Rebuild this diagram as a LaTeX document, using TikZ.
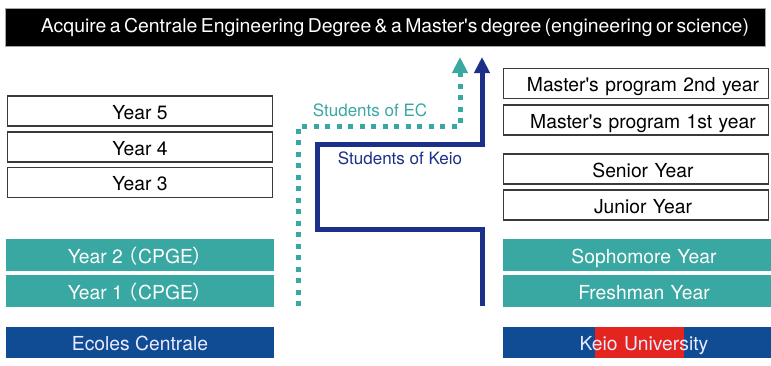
\documentclass[tikz,border=0pt]{standalone}
\usepackage{fontspec}
\usepackage{graphicx}
\setmainfont{TeX Gyre Heros}
\newfontfamily\cjkfont{Noto Sans CJK JP}
\usetikzlibrary{arrows.meta}
\definecolor{ecteal}{RGB}{58,168,162}
\definecolor{ecblue}{RGB}{16,76,148}
\definecolor{keionavy}{RGB}{28,48,138}
\definecolor{keiored}{RGB}{228,36,30}
\definecolor{boxgray}{RGB}{60,58,56}
\begin{document}
\begin{tikzpicture}[x=1pt,y=-1pt,
  boxtext/.style={font=\fontsize{19.3}{21}\selectfont, text height=16.5pt, text depth=0pt},
  wbox/.style={boxtext, draw=boxgray, line width=1.6pt, fill=white,
    minimum width=265pt, minimum height=30pt, inner sep=0pt},
  tbox/.style={boxtext, fill=ecteal, text=white,
    minimum width=268pt, minimum height=32pt, inner sep=0pt},
  bbox/.style={boxtext, fill=ecblue, text=white!92!blue,
    minimum width=268pt, minimum height=31pt, inner sep=0pt},
  rshift/.style={text width=255pt, align=center,
    execute at begin node=\hspace*{14pt}},
  ecpath/.style={draw=ecteal, line width=5pt, dash pattern=on 5pt off 6.5pt,
    -{Triangle[width=15pt,length=16pt]}},
  keiopath/.style={draw=keionavy, line width=5pt,
    -{Triangle[width=15pt,length=16pt]}},
  pathlabel/.style={font=\fontsize{17}{19}\selectfont}
]
\useasboundingbox (0,0) rectangle (771,365);

% title
\node[fill=black, draw=gray!70, line width=0.8pt, minimum width=760pt,
  minimum height=38pt, inner sep=0pt, text=white, text width=745pt,
  align=center, execute at begin node=\hspace*{19pt}] (title) at (385.5,27.5)
  {\resizebox{708pt}{\height}{\fontsize{19}{21}\selectfont Acquire a Centrale Engineering Degree \& a Master\textquotesingle s degree (engineering or science)}};

% left column
\node[wbox] (y5) at (140,111) {Year 5};
\node[wbox] (y4) at (140,147) {Year 4};
\node[wbox] (y3) at (140,182.5) {Year 3};
\node[tbox] (y2) at (140,255) {Year 2\kern-4pt{\cjkfont （}CPGE{\cjkfont ）}};
\node[tbox] (y1) at (140,291) {Year 1\kern-4pt{\cjkfont （}CPGE{\cjkfont ）}};
\node[bbox] (ec) at (140,342.5) {Ecoles Centrale};

% right column
\node[wbox, rshift] (m2) at (636,83.5) {Master\textquotesingle s program 2nd year};
\node[wbox, rshift] (m1) at (636,120) {Master\textquotesingle s program 1st year};
\node[wbox, rshift] (sen) at (636,169) {Senior Year};
\node[wbox, rshift] (jun) at (636,205) {Junior Year};
\node[tbox, rshift] (soph) at (637,255) {Sophomore Year};
\node[tbox, rshift] (fresh) at (637,291) {Freshman Year};
\node[bbox, rshift, path picture={
    \fill[keiored] ([xshift=92pt]path picture bounding box.south west)
      rectangle ([xshift=181pt]path picture bounding box.north west);}]
  (keio) at (637,342.5) {Keio University};

% paths
\coordinate (ecstart) at (298,306);
\coordinate (ecturn) at (298,126);
\coordinate (ectip) at (460,57);
\draw[ecpath] (ecstart) -- (ecturn) -| (ectip);

\coordinate (kstart) at (482,306);
\coordinate (kturn1) at (317,229);
\coordinate (kturn2) at (317,144);
\coordinate (ktip) at (482,57);
\draw[keiopath] (kstart) |- (kturn1) -- (kturn2) -| (ktip);

\node[pathlabel, text=ecteal] (eclabel) at (370,110) {Students of EC};
\node[pathlabel, text=keionavy] (klabel) at (400,158) {Students of Keio};
\end{tikzpicture}
\end{document}
